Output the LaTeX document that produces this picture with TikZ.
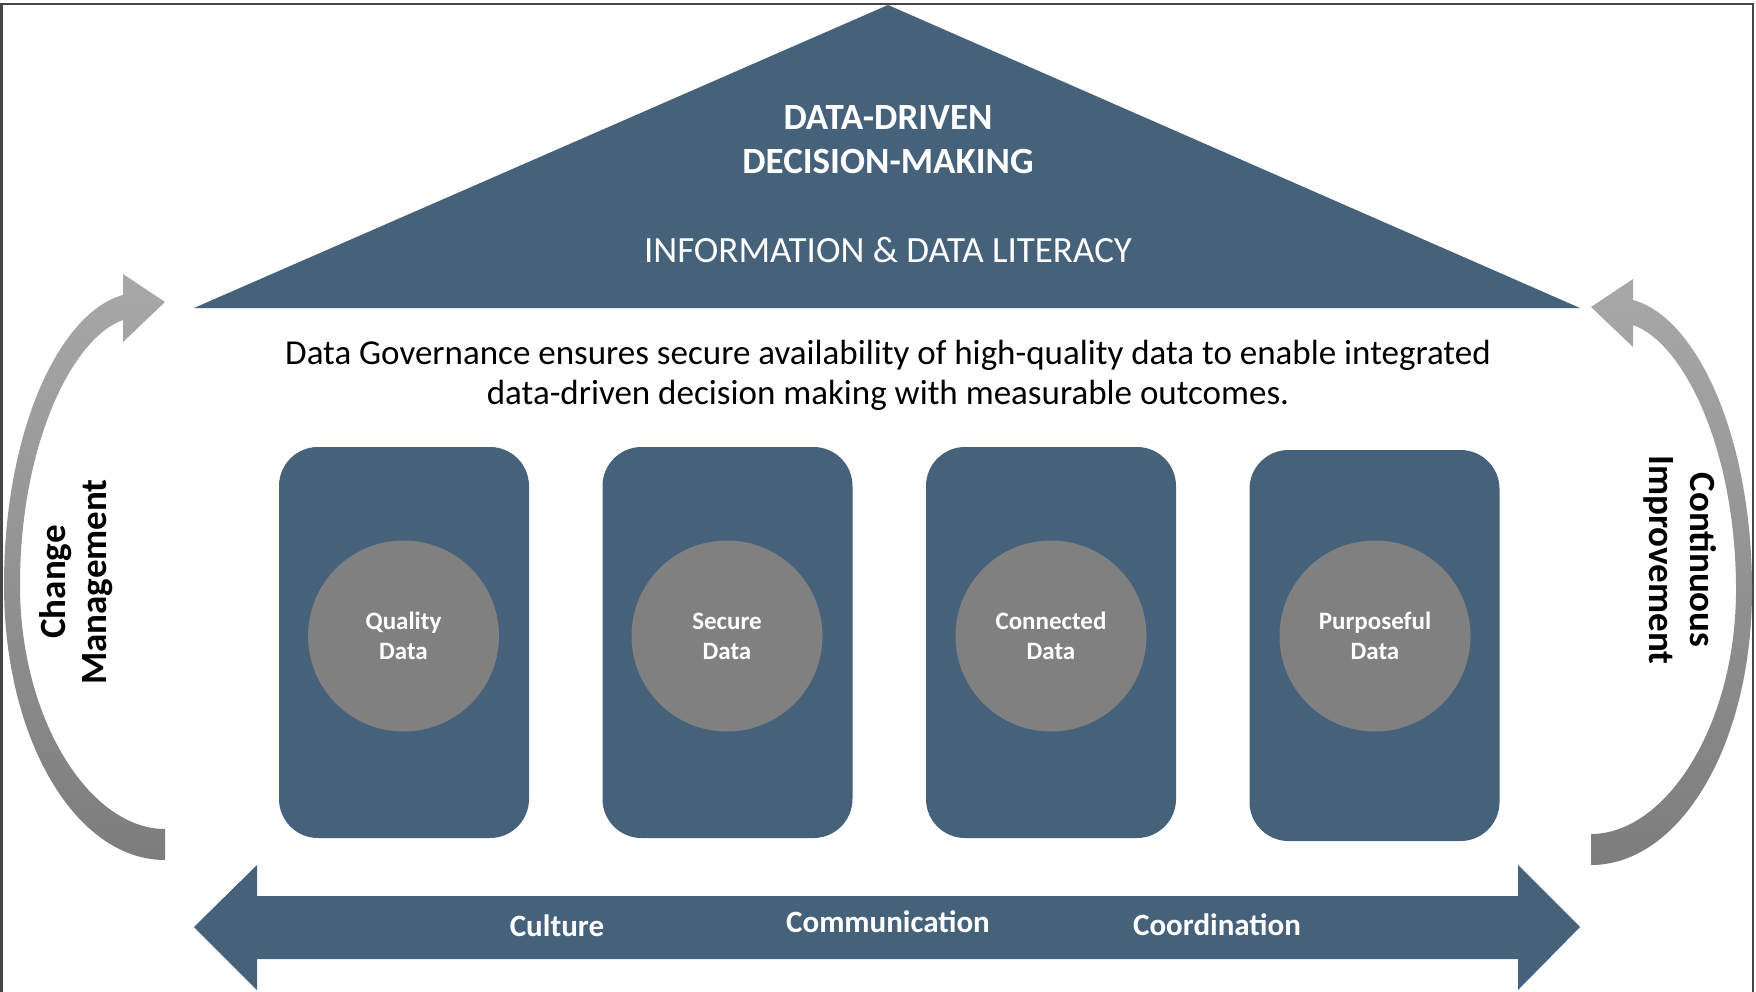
\documentclass[tikz,border=0pt]{standalone}
\usepackage{fontspec}
\setmainfont{Carlito}
\definecolor{slate}{RGB}{70,98,122}
\definecolor{circgray}{RGB}{128,128,128}
\definecolor{arrlight}{RGB}{168,168,168}
\definecolor{arrdark}{RGB}{125,125,125}
\definecolor{frame}{RGB}{70,70,70}
\tikzset{
  pillar/.style={fill=slate, rounded corners=39pt, minimum width=250pt, minimum height=391pt, inner sep=0pt},
  disc/.style={circle, fill=circgray, minimum size=191pt, inner sep=0pt, text=white, align=center, font=\fontsize{25}{30}\selectfont\bfseries},
  barlabel/.style={text=white, font=\fontsize{31}{36}\selectfont\bfseries},
  sidelabel/.style={align=center, font=\fontsize{37}{41}\selectfont\bfseries},
  loopshade/.style={top color=arrlight, bottom color=arrdark}
}
\begin{document}
\begin{tikzpicture}[x=1pt,y=-1pt]
\useasboundingbox (0,0) rectangle (1756,991);
\fill[white] (0,0) rectangle (1756,991);
% frame
\draw[line width=2.5pt, frame] (1.5,1000) -- (1.5,4) -- (1753,4) -- (1753,1000);
% roof
\fill[slate] (194,308) -- (888,5) -- (1580,308) -- cycle;
\node[text=white, align=center, font=\fontsize{37}{44}\selectfont\bfseries] (ddm) at (888,140) {DATA-DRIVEN\\DECISION-MAKING};
\node[text=white, font=\fontsize{37}{42}\selectfont] (lit) at (888,250) {INFORMATION \& DATA LITERACY};
% statement
\node[align=center, font=\fontsize{35}{40}\selectfont] (gov) at (888,375) {Data Governance ensures secure availability of high-quality data to enable integrated\\data-driven decision making with measurable outcomes.};
% pillars
\node[pillar] (p1) at (404,642.5) {};
\node[pillar] (p2) at (727.5,642.5) {};
\node[pillar] (p3) at (1051,642.5) {};
\node[pillar] (p4) at (1374.5,645.5) {};
\node[disc] (c1) at (403.5,636) {Quality\\Data};
\node[disc] (c2) at (727,636) {Secure\\Data};
\node[disc] (c3) at (1051,636) {Connected\\Data};
\node[disc] (c4) at (1375,636) {Purposeful\\Data};
% foundation double arrow
\fill[slate] (194,927) -- (257,865) -- (257,896) -- (1518,896) -- (1518,865) -- (1580,927)
  -- (1518,990) -- (1518,959) -- (257,959) -- (257,990) -- cycle;
\node[barlabel] (cul) at (557,926) {Culture};
\node[barlabel] (com) at (888,922) {Communication};
\node[barlabel] (coo) at (1217,925) {Coordination};
% left loop arrow
\shade[loopshade] (165,860) .. controls (76,860) and (4,740) .. (4,585)
  .. controls (4,430) and (60,312) .. (123,295) -- (123,274) -- (165,302) -- (123,342) -- (123,320)
  .. controls (72,338) and (20,445) .. (20,585)
  .. controls (20,720) and (90,829) .. (165,829) -- cycle;
% right loop arrow (mirror)
\begin{scope}[shift={(1756,5)}, xscale=-1]
\shade[loopshade] (165,860) .. controls (76,860) and (4,740) .. (4,585)
  .. controls (4,430) and (60,312) .. (123,295) -- (123,274) -- (165,302) -- (123,342) -- (123,320)
  .. controls (72,338) and (20,445) .. (20,585)
  .. controls (20,720) and (90,829) .. (165,829) -- cycle;
\end{scope}
\node[sidelabel, rotate=90] (chg) at (76,582) {Change\\Management};
\node[sidelabel, rotate=-90] (imp) at (1680,560) {Continuous\\Improvement};
\end{tikzpicture}
\end{document}
